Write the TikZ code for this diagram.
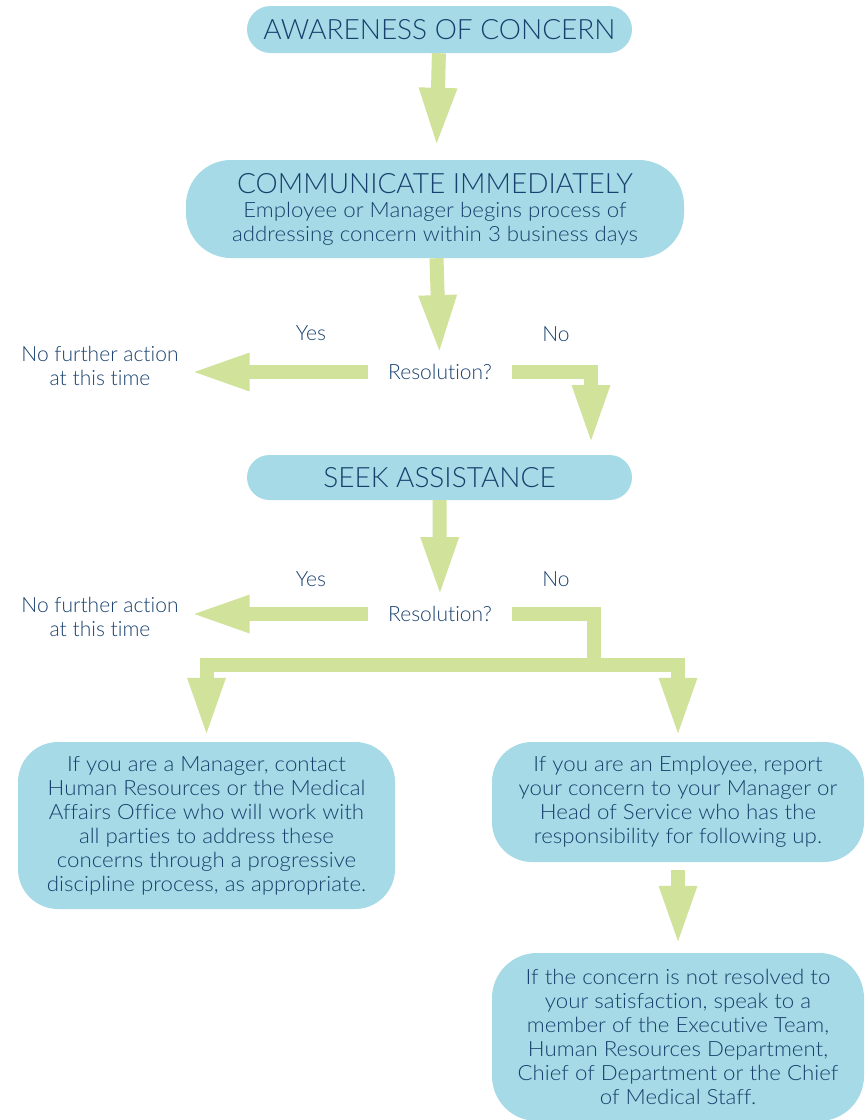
\documentclass[tikz,border=0pt]{standalone}
\usepackage{fontspec}
\setmainfont{Lato Light}[Ligatures=NoCommon]
\newfontfamily\widefont[FakeStretch=1.06,Ligatures=NoCommon]{Lato Light}
\usetikzlibrary{arrows.meta}
\definecolor{boxblue}{HTML}{A5DAE6}
\definecolor{arrowgreen}{HTML}{D1E29B}
\definecolor{inkblue}{HTML}{18406E}

\begin{document}
\begin{tikzpicture}[x=1pt,y=-1pt,text=inkblue,
  box/.style={fill=boxblue,align=center,inner sep=0pt},
  title/.style={box,font=\fontsize{28}{32}\selectfont},
  body/.style={align=center,font=\fontsize{21}{24}\selectfont},
  boxtext/.style={box,align=center,font=\fontsize{21}{24}\widefont},
  decision/.style={body,inner xsep=20pt,inner ysep=4pt},
  flow/.style={draw=arrowgreen,line width=14pt,-{Triangle[length=60pt,width=34pt]}}]
  \useasboundingbox (0,0) rectangle (867,1120);
  % boxes down the middle
  \node[title,minimum width=385pt,minimum height=47pt,rounded corners=23.5pt] (aware) at (439.5,29.5) {AWARENESS OF CONCERN};
  \node[boxtext,minimum width=498pt,minimum height=98pt,rounded corners=45pt] (comm) at (435,209)
    {{\rmfamily\fontsize{28}{30}\selectfont COMMUNICATE IMMEDIATELY}\\Employee or Manager begins process of\\addressing concern within 3 business days};
  \node[title,minimum width=385pt,minimum height=45pt,rounded corners=22.5pt] (seek) at (439.5,477.5) {SEEK ASSISTANCE};
  % first decision
  \node[decision] (res1) at (440,372) {Resolution?};
  \node[body,inner xsep=11pt] (stop1) at (100,366) {No further action\\at this time};
  \node[body] (yes1) at (311,333) {Yes};
  \node[body] (no1) at (556,334) {No};
  \coordinate (nodrop) at (591,445);
  % second decision
  \node[decision] (res2) at (440,614) {Resolution?};
  \node[body,inner xsep=11pt] (stop2) at (100,617) {No further action\\at this time};
  \node[body] (yes2) at (311,579) {Yes};
  \node[body] (no2) at (556,579) {No};
  \coordinate (split) at (594,665);
  % bottom boxes
  \node[boxtext,minimum width=377pt,minimum height=167pt,rounded corners=40pt] (mgr) at (206.5,825.5)
    {If you are a Manager, contact\\Human Resources or the Medical\\Affairs Office who will work with\\all parties to address these\\concerns through a progressive\\discipline process, as appropriate.};
  \node[boxtext,minimum width=372pt,minimum height=120pt,rounded corners=40pt] (emp) at (678,802)
    {If you are an Employee, report\\your concern to your Manager or\\Head of Service who has the\\responsibility for following up.};
  \node[boxtext,minimum width=372pt,minimum height=168pt,rounded corners=45pt] (exec) at (678,1037)
    {If the concern is not resolved to\\your satisfaction, speak to a\\member of the Executive Team,\\Human Resources Department,\\Chief of Department or the Chief\\of Medical Staff.};
  % arrows
  \draw[flow,shorten >=12pt] (aware) -- (comm);
  \draw[flow,shorten >=5pt] (comm) -- (res1);
  \draw[flow] (res1.west) -- (res1.west -| stop1.east);
  \draw[flow] (res1.east) -| (nodrop);
  \draw[flow,shorten >=5pt] (seek) -- (res2);
  \draw[flow] (res2.west) -- (res2.west -| stop2.east);
  \draw[flow,-] (res2.east) -| (split);
  \draw[flow,shorten >=4pt] (split) -| (mgr);
  \draw[flow,shorten >=4pt] (split) -| (emp);
  \draw[flow,shorten <=8pt,shorten >=7pt] (emp) -- (exec);
\end{tikzpicture}
\end{document}
